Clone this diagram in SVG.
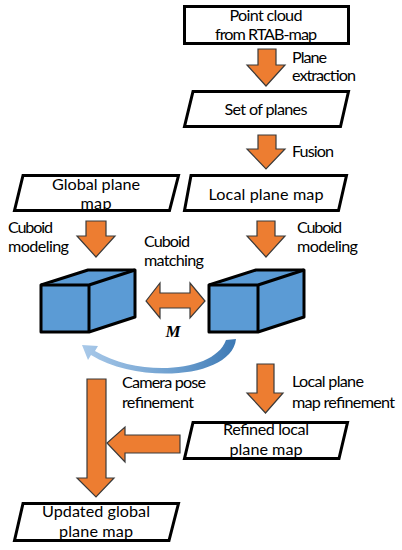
<svg xmlns="http://www.w3.org/2000/svg" width="402" height="550" viewBox="0 0 402 550">
<defs>
<linearGradient id="blueGrad" x1="0" y1="0" x2="1" y2="0">
<stop offset="0" stop-color="#a9c9e9"/>
<stop offset="0.6" stop-color="#6d9fcf"/>
<stop offset="1" stop-color="#3d79b4"/>
</linearGradient>
</defs>
<style>
.box{fill:#fff;stroke:#000;stroke-width:3;stroke-linejoin:miter}
.arr{fill:#ED7D31;stroke:#3a3a3a;stroke-width:1.2;stroke-linejoin:miter}
.cube{fill:#5B9BD5;stroke:#000;stroke-width:3;stroke-linejoin:round}
.t{font-family:Lato,"Liberation Sans",sans-serif;font-size:16.2px;fill:#000}
.c{text-anchor:middle}
.m{font-family:"Liberation Serif",serif;font-size:17px;font-weight:bold;font-style:italic;fill:#000;text-anchor:middle}
</style>
<rect width="402" height="550" fill="#fff"/>

<g id="point-cloud">
<rect class="box" x="184.5" y="6.5" width="164" height="37"/>
<text class="t c" x="266" y="21" textLength="73">Point cloud</text>
<text class="t c" x="266" y="40" textLength="102">from RTAB-map</text>
</g>

<g id="set-of-planes">
<polygon class="box" points="193,91.5 348.5,91.5 340.5,126.5 184.5,126.5"/>
<text class="t c" x="266" y="115" textLength="83">Set of planes</text>
</g>

<g id="global-plane-map">
<polygon class="box" points="23,175.5 178.5,175.5 169.5,210.5 14.5,210.5"/>
<text class="t c" x="96" y="190" textLength="88">Global plane</text>
<text class="t c" x="96" y="209" textLength="31">map</text>
</g>

<g id="local-plane-map">
<polygon class="box" points="191,175.5 346.5,175.5 338.5,210.5 184.5,210.5"/>
<text class="t c" x="266" y="200" textLength="115">Local plane map</text>
</g>

<g id="global-cuboid">
<polygon class="cube" points="41,285 88,270 135,270 135,317 89,332 41,332"/>
<polyline class="cube" fill="none" points="41,285 89,285 135,270"/>
<line x1="89" y1="285" x2="89" y2="332" stroke="#000" stroke-width="3"/>
</g>

<g id="local-cuboid">
<polygon class="cube" points="209,285 256,270 304,270 304,317 258,332 209,332"/>
<polyline class="cube" fill="none" points="209,285 258,285 304,270"/>
<line x1="258" y1="285" x2="258" y2="332" stroke="#000" stroke-width="3"/>
</g>

<g id="refined-local-plane-map">
<polygon class="box" points="193,422.5 347.5,422.5 339,458.5 184.5,458.5"/>
<text class="t c" x="266" y="435" textLength="86">Refined local</text>
<text class="t c" x="266" y="455" textLength="73">plane map</text>
</g>

<g id="updated-global-plane-map">
<polygon class="box" points="23,503.5 178.5,503.5 169,540.5 14.5,540.5"/>
<text class="t c" x="96" y="517" textLength="108">Updated global</text>
<text class="t c" x="96" y="537" textLength="74">plane map</text>
</g>

<g id="connectors">
<polygon class="arr" points="258,49 276,49 276,65 285,65 266,86 247,65 258,65"/>
<polygon class="arr" points="258,135 276,135 276,149 285,149 266,169 247,149 258,149"/>
<polygon class="arr" points="86,221 106,221 106,236 115,236 96,257 77,236 86,236"/>
<polygon class="arr" points="257,221 275,221 275,236 285,236 266,257 247,236 257,236"/>
<polygon class="arr" points="146,301 160,283 160,293 190,293 190,283 205,301 190,318 190,308 160,308 160,318"/>
<path d="M82,345 L98,346 L95,351 C140,378 215,372 226,340 L236,339 C232,378 140,385 91,355 L88,360 Z" fill="url(#blueGrad)"/>
<polygon class="arr" points="257,364 274,364 274,393 283,393 265.5,413 247,393 257,393"/>
<polygon class="arr" points="87,379 106,379 106,478 114,478 96,497 77,478 87,478"/>
<polygon class="arr" points="180,435 180,453 125,453 125,462 107,443 125,427 125,435"/>
</g>

<g id="labels">
<text class="t" x="292" y="63" textLength="35">Plane</text>
<text class="t" x="292" y="81" textLength="64">extraction</text>
<text class="t" x="292" y="157" textLength="42">Fusion</text>
<text class="t" x="8" y="233" textLength="45">Cuboid</text>
<text class="t" x="8" y="252" textLength="61">modeling</text>
<text class="t" x="297" y="233" textLength="45">Cuboid</text>
<text class="t" x="297" y="252" textLength="61">modeling</text>
<text class="t" x="144" y="247" textLength="46">Cuboid</text>
<text class="t" x="144" y="266" textLength="60">matching</text>
<text class="m" x="173" y="337">M</text>
<text class="t" x="122" y="388" textLength="84">Camera pose</text>
<text class="t" x="122" y="408" textLength="72">refinement</text>
<text class="t" x="292" y="387" textLength="72">Local plane</text>
<text class="t" x="292" y="408" textLength="103">map refinement</text>
</g>
</svg>
